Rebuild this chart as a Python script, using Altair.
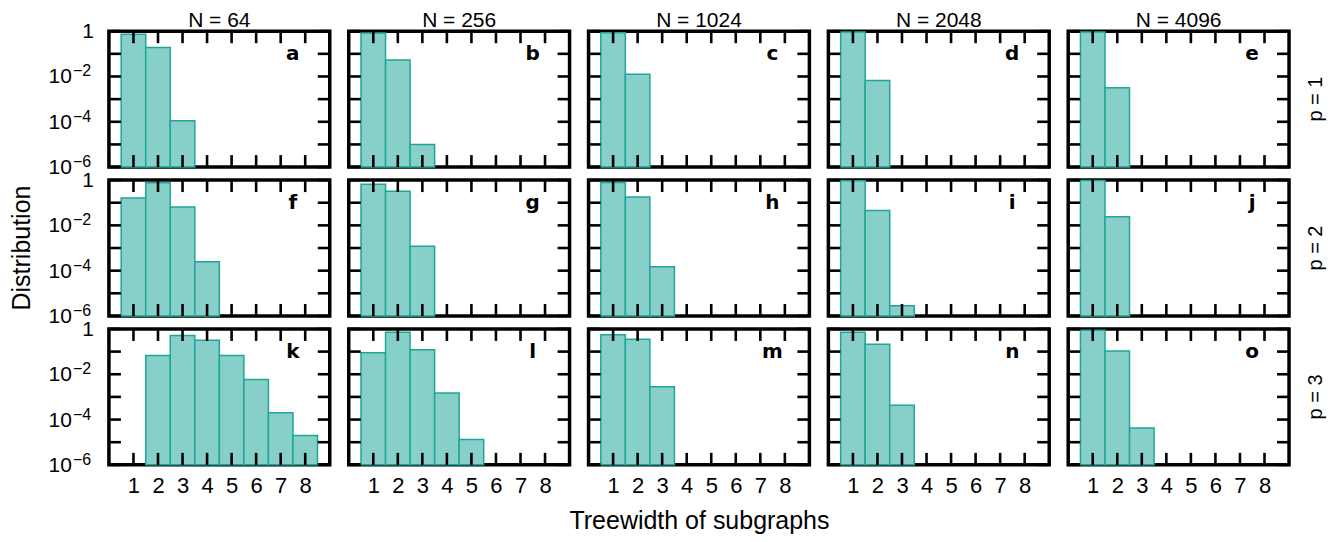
import altair as alt
import pandas as pd

# ---------------- data ----------------
N_LABELS = ["N = 64", "N = 256", "N = 1024", "N = 2048", "N = 4096"]
P_LABELS = ["p = 1", "p = 2", "p = 3"]
PANEL_LETTERS = [["a", "b", "c", "d", "e"],
                 ["f", "g", "h", "i", "j"],
                 ["k", "l", "m", "n", "o"]]
TREEWIDTH = [1, 2, 3, 4, 5, 6, 7, 8]

# distribution of treewidth (index 0 -> treewidth 1); 0 = no bar
DIST_P1 = [
    [0.74, 0.19, 1.1e-4],
    [0.83, 0.054, 1.0e-5],
    [0.86, 0.0125],
    [0.92, 6.6e-3],
    [0.93, 3.2e-3],
]
DIST_P2 = [
    [0.16, 0.77, 0.064, 2.5e-4],
    [0.66, 0.32, 1.2e-3],
    [0.79, 0.18, 1.5e-4],
    [0.93, 0.045, 2.8e-6],
    [0.95, 0.024],
]
DIST_P3 = [
    [0, 0.067, 0.51, 0.32, 0.067, 5.9e-3, 2.0e-4, 2.0e-5],
    [0.089, 0.71, 0.12, 1.5e-3, 1.3e-5],
    [0.56, 0.35, 2.8e-3],
    [0.71, 0.21, 4.3e-4],
    [0.88, 0.106, 4.2e-5],
]
DISTS = [DIST_P1, DIST_P2, DIST_P3]

Y_MIN = 1e-6
Y_TICKS = [1e-6, 1e-5, 1e-4, 1e-3, 1e-2, 1e-1, 1]
Y_LABEL_VALUES = [1, 1e-2, 1e-4, 1e-6]
Y_LABEL_BASE = ["1", "10", "10", "10"]
Y_LABEL_EXP = ["", "\u22122", "\u22124", "\u22126"]

# ---------------- style ----------------
W, H = 221, 136
FONT = "Liberation Sans"
FILL = "#86d0c9"
STROKE = "#1fa698"
TICK = 12
TICK_W = 2.6

xscale = alt.Scale(domain=[0, 9], nice=False, zero=False)
yscale = alt.Scale(type="log", domain=[Y_MIN, 1], nice=False, clamp=True)


def x_axis(r, c):
    if r != 2:
        return None
    return alt.Axis(values=TREEWIDTH, format="d", ticks=False, domain=False, grid=False,
                    labelFontSize=22, labelFont=FONT, labelColor="black", labelPadding=11,
                    title="Treewidth of subgraphs" if c == 2 else "",
                    titleFontSize=25, titleFont=FONT, titleFontWeight="normal",
                    titleColor="black", titlePadding=12)


def xenc(field, r, c):
    ax = x_axis(r, c)
    if ax is None:
        return alt.X(field, scale=xscale, axis=None)
    return alt.X(field, scale=xscale, axis=ax)


def panel(r, c):
    vals = DISTS[r][c]
    df = pd.DataFrame({"tw": TREEWIDTH[:len(vals)], "value": vals})
    df = df[df["value"] > 0].copy()
    df["lo"] = df["tw"] - 0.5
    df["hi"] = df["tw"] + 0.5
    df["base"] = Y_MIN

    bars = alt.Chart(df).mark_rect(fill=FILL, stroke=STROKE, strokeWidth=1.5).encode(
        x=xenc("lo:Q", r, c), x2="hi:Q",
        y=alt.Y("value:Q", scale=yscale, axis=None), y2="base:Q",
    )

    xt = pd.DataFrame({"t": TREEWIDTH})
    yt = pd.DataFrame({"v": Y_TICKS})
    xt_top = alt.Chart(xt).mark_rule(color="black", strokeWidth=TICK_W).encode(
        x=xenc("t:Q", r, c), y=alt.value(0), y2=alt.value(TICK))
    xt_bot = alt.Chart(xt).mark_rule(color="black", strokeWidth=TICK_W).encode(
        x=xenc("t:Q", r, c), y=alt.value(H - TICK), y2=alt.value(H))
    yt_left = alt.Chart(yt).mark_rule(color="black", strokeWidth=TICK_W).encode(
        y=alt.Y("v:Q", scale=yscale, axis=None), x=alt.value(0), x2=alt.value(TICK))
    yt_right = alt.Chart(yt).mark_rule(color="black", strokeWidth=TICK_W).encode(
        y=alt.Y("v:Q", scale=yscale, axis=None), x=alt.value(W - TICK), x2=alt.value(W))

    letter = alt.Chart(pd.DataFrame({"letter": [PANEL_LETTERS[r][c]]})).mark_text(
        font="DejaVu Sans", fontWeight="bold", fontSize=20, align="center",
        baseline="alphabetic", color="black").encode(
        text="letter:N", x=alt.value(184), y=alt.value(29))

    layers = [bars, xt_top, xt_bot, yt_left, yt_right, letter]

    if r == 0:
        ntitle = alt.Chart(pd.DataFrame({"t": [N_LABELS[c]]})).mark_text(
            font=FONT, fontSize=21, align="center", baseline="alphabetic",
            color="black").encode(text="t:N", x=alt.value(W / 2), y=alt.value(-4))
        layers.append(ntitle)

    if c == 0:
        ylab = pd.DataFrame({"v": Y_LABEL_VALUES, "base": Y_LABEL_BASE, "exp": Y_LABEL_EXP})
        ones = alt.Chart(ylab[ylab["base"] == "1"]).mark_text(
            font=FONT, fontSize=21, align="right", baseline="middle", color="black", dy=1).encode(
            y=alt.Y("v:Q", scale=yscale, axis=None), x=alt.value(-15), text="base:N")
        tens = alt.Chart(ylab[ylab["base"] == "10"]).mark_text(
            font=FONT, fontSize=21, align="right", baseline="middle", color="black", dy=1).encode(
            y=alt.Y("v:Q", scale=yscale, axis=None), x=alt.value(-37), text="base:N")
        exps = alt.Chart(ylab[ylab["base"] == "10"]).mark_text(
            font=FONT, fontSize=16, align="left", baseline="middle", color="black", dy=-5).encode(
            y=alt.Y("v:Q", scale=yscale, axis=None), x=alt.value(-36), text="exp:N")
        layers += [ones, tens, exps]
        if r == 1:
            ytitle = alt.Chart(pd.DataFrame({"t": ["Distribution"]})).mark_text(
                font=FONT, fontSize=25, angle=270, align="center", baseline="middle",
                color="black").encode(text="t:N", x=alt.value(-87), y=alt.value(H / 2))
            layers.append(ytitle)

    if c == 4:
        plab = alt.Chart(pd.DataFrame({"t": [P_LABELS[r]]})).mark_text(
            font=FONT, fontSize=20, angle=270, align="center", baseline="middle",
            color="black").encode(text="t:N", x=alt.value(W + 27), y=alt.value(H / 2))
        layers.append(plab)

    return alt.layer(*layers).properties(width=W, height=H)


panels = [panel(r, c) for r in range(3) for c in range(5)]
chart = alt.concat(*panels, columns=5, spacing={"row": 13, "column": 19},
                   bounds="flush").properties(padding=0).configure(
    font=FONT, view=alt.ViewConfig(stroke="black", strokeWidth=3.5))

chart.save("out.html", embed_options={"renderer": "svg", "actions": False})
